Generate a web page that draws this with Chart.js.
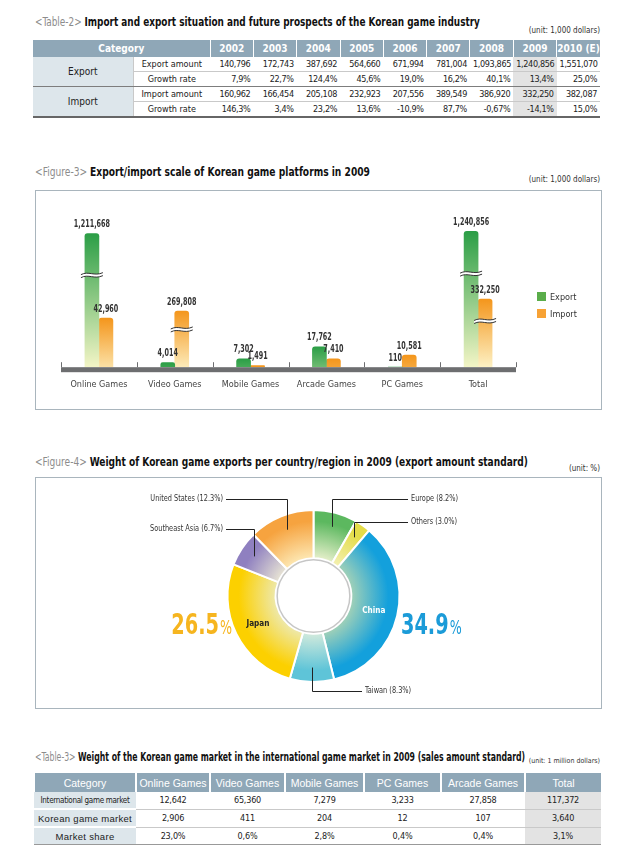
<!DOCTYPE html>
<html>
<head>
<meta charset="utf-8">
<script src="https://cdn.jsdelivr.net/npm/chart.js@4.4.1/dist/chart.umd.min.js"></script>
<style>
body { margin:0; width:634px; height:857px; background:#fff; position:relative; overflow:hidden;
  font-family:"DejaVu Sans Condensed","DejaVu Sans",sans-serif; color:#222; }
.title { position:absolute; left:35px; font-size:12.5px; white-space:nowrap; transform-origin:0 50%; }
.title .tag { color:#8c8c8c; }
.title b { color:#111; }
.unit { position:absolute; right:34px; font-size:8px; color:#333; white-space:nowrap; }
.box { position:absolute; left:35px; width:565px; border:1px solid #a9b5bd; }
canvas { position:absolute; }
table { position:absolute; left:33px; width:567px; border-collapse:collapse; table-layout:fixed; }
th { background:#8fa7b7; color:#fff; padding:0; border-left:1px solid #fff; }
th:first-child { border-left:none; }
#t2 th { height:17px; font-size:10px; font-weight:bold; }
#t2 td { height:14px; font-size:9px; padding:0 3px; text-align:right; border-bottom:1px solid #c9c9c9; white-space:nowrap; letter-spacing:-0.35px; }
#t2 td.cat { background:#dde6eb; text-align:center; font-size:10px; border-bottom:none; letter-spacing:0; }
#t2 td.sub { text-align:center; border-left:1px solid #c9c9c9; letter-spacing:0; }
#t2 td.hl { background:#e3e3e3; }
#t2 tr.grp td { border-bottom:1px solid #7d7d7d; }
#t2 tr.last td { border-bottom:2px solid #666; }
#t3 th { height:19px; font-family:"Liberation Sans",Arial,sans-serif; font-size:10.5px; font-weight:normal; border-left:2px solid #fff; }
#t3 td { height:14px; font-size:9px; text-align:center; border-bottom:1px solid #c9c9c9; white-space:nowrap; letter-spacing:-0.2px; }
#t3 td.cat { background:#dde6eb; border-bottom:2px solid #fff; }
#t3 td.hl { background:#e3e3e3; }
#t3 tr.last td { border-bottom:1px solid #999; }
.legend { position:absolute; left:537px; font-size:9px; color:#333; }
.legend i { display:inline-block; width:9px; height:9px; vertical-align:-1px; margin-right:4px; }
</style>
</head>
<body>

<div class="title" data-w="445" style="top:14px"><span class="tag">&lt;Table-2&gt;</span> <b>Import and export situation and future prospects of the Korean game industry</b></div>
<div class="unit" style="top:26px">(unit: 1,000 dollars)</div>
<table id="t2" style="top:40px"></table>

<div class="title" data-w="335" style="top:164px"><span class="tag">&lt;Figure-3&gt;</span> <b>Export/import scale of Korean game platforms in 2009</b></div>
<div class="unit" style="top:175px">(unit: 1,000 dollars)</div>
<div class="box" style="top:190px;height:218px"></div>
<canvas id="bars" width="567" height="220" style="left:35px;top:190px"></canvas>
<div class="legend" style="top:292px"><i style="background:#5aad4a"></i>Export</div>
<div class="legend" style="top:309px"><i style="background:#f7a235"></i>Import</div>

<div class="title" data-w="493" style="top:454px"><span class="tag">&lt;Figure-4&gt;</span> <b>Weight of Korean game exports per country/region in 2009 (export amount standard)</b></div>
<div class="unit" style="top:464px">(unit: %)</div>
<div class="box" style="top:477px;height:230px"></div>
<canvas id="donut" width="567" height="232" style="left:35px;top:477px"></canvas>

<div class="title" data-w="490" style="top:749px"><span class="tag">&lt;Table-3&gt;</span> <b>Weight of the Korean game market in the international game market in 2009 (sales amount standard)</b></div>
<div class="unit" style="top:757px;font-size:7px">(unit: 1 million dollars)</div>
<table id="t3" style="top:773px"></table>

<script>
// Table-2 data
const years = ['2002', '2003', '2004', '2005', '2006', '2007', '2008', '2009', '2010 (E)'];
const exportAmount = [140796, 172743, 387692, 564660, 671994, 781004, 1093865, 1240856, 1551070];
const exportGrowth = [7.9, 22.7, 124.4, 45.6, 19.0, 16.2, 40.1, 13.4, 25.0];
const importAmount = [160962, 166454, 205108, 232923, 207556, 389549, 386920, 332250, 382087];
const importGrowth = [146.3, 3.4, 23.2, 13.6, -10.9, 87.7, -0.67, -14.1, 15.0];

// Figure-3 data
const platforms = ['Online Games', 'Video Games', 'Mobile Games', 'Arcade Games', 'PC Games', 'Total'];
const exportValues = [1211668, 4014, 7302, 17762, 110, 1240856];
const importValues = [42960, 269808, 1491, 7410, 10581, 332250];

// Figure-4 data
const regions = ['Europe', 'Others', 'China', 'Taiwan', 'Japan', 'Southeast Asia', 'United States'];
const regionShares = [8.2, 3.0, 34.9, 8.3, 26.5, 6.7, 12.3];

// Table-3 data
const marketCategories = ['Online Games', 'Video Games', 'Mobile Games', 'PC Games', 'Arcade Games', 'Total'];
const intlMarket = [12642, 65360, 7279, 3233, 27858, 117372];
const koreanMarket = [2906, 411, 204, 12, 107, 3640];
const marketShare = [23.0, 0.6, 2.8, 0.4, 0.4, 3.1];

const FONT = '"DejaVu Sans Condensed","DejaVu Sans",sans-serif';
const num = v => v.toLocaleString('en-US');
const pct = v => {
    const d = Math.abs(v * 10 - Math.round(v * 10)) < 1e-6 ? 1 : 2;
    return v.toFixed(d).replace('.', ',') + '%';
};

// squeeze the titles to the width they take in the print
document.querySelectorAll('.title').forEach(el => {
    el.style.transform = `scaleX(${+el.dataset.w / el.offsetWidth})`;
});

// horizontally squeezed canvas text (the print uses a narrow face)
function narrowText(ctx, text, x, y, sx) {
    ctx.save();
    ctx.translate(x, y);
    ctx.scale(sx, 1);
    ctx.fillText(text, 0, 0);
    ctx.restore();
}

// ---- Table-2
(function() {
    const t = document.getElementById('t2');
    let html = '<colgroup><col style="width:100px"><col style="width:77px">' +
        years.map(() => '<col style="width:43.3px">').join('') + '</colgroup>';
    html += '<tr><th colspan="2">Category</th>' + years.map(y => `<th>${y}</th>`).join('') + '</tr>';
    const row = (cls, cat, sub, vals, fmt) => {
        let r = `<tr class="${cls}">`;
        if (cat) r += `<td class="cat" rowspan="2">${cat}</td>`;
        r += `<td class="sub">${sub}</td>`;
        r += vals.map((v, i) => `<td${i === 7 ? ' class="hl"' : ''}>${fmt(v)}</td>`).join('');
        return r + '</tr>';
    };
    html += row('', 'Export', 'Export amount', exportAmount, num);
    html += row('grp', null, 'Growth rate', exportGrowth, pct);
    html += row('', 'Import', 'Import amount', importAmount, num);
    html += row('last', null, 'Growth rate', importGrowth, pct);
    t.innerHTML = html;
    t.rows[1].cells[0].style.borderBottom = '1px solid #7d7d7d';
    t.rows[3].cells[0].style.borderBottom = '2px solid #666';
})();

// ---- Table-3
(function() {
    const t = document.getElementById('t3');
    const widths = [102, 74, 75, 79, 77, 84, 76];
    let html = '<colgroup>' + widths.map(w => `<col style="width:${w}px">`).join('') + '</colgroup>';
    html += '<tr><th>Category</th>' + marketCategories.map(c => `<th>${c}</th>`).join('') + '</tr>';
    const row = (cls, label, style, vals, fmt) =>
        `<tr class="${cls}"><td class="cat" style="${style}">${label}</td>` +
        vals.map((v, i) => `<td${i === 5 ? ' class="hl"' : ''}>${fmt(v)}</td>`).join('') + '</tr>';
    html += row('', 'International game market', 'font-size:8px;letter-spacing:-0.3px', intlMarket, num);
    html += row('', 'Korean game market', 'font-family:Liberation Sans,Arial;font-size:9.5px;letter-spacing:0.3px', koreanMarket, num);
    html += row('last', 'Market share', 'font-family:Liberation Sans,Arial;font-size:9.5px;letter-spacing:0.3px', marketShare, pct);
    t.innerHTML = html;
})();

Chart.defaults.font.family = FONT;

// y scale with axis breaks: piecewise linear value -> fraction of height
class BrokenScale extends Chart.LinearScale {
    getPixelForValue(value) {
        const bp = this.options.breaks;
        let f = 0;
        for (let i = 1; i < bp.length; i++) {
            if (value <= bp[i][0] || i === bp.length - 1) {
                const [v0, f0] = bp[i - 1], [v1, f1] = bp[i];
                f = f0 + (value - v0) / (v1 - v0) * (f1 - f0);
                break;
            }
        }
        return this.getPixelForDecimal(f);
    }
    getValueForPixel(pixel) {
        const bp = this.options.breaks;
        const f = this.getDecimalForPixel(pixel);
        for (let i = 1; i < bp.length; i++) {
            if (f <= bp[i][1] || i === bp.length - 1) {
                const [v0, f0] = bp[i - 1], [v1, f1] = bp[i];
                return v0 + (f - f0) / (f1 - f0) * (v1 - v0);
            }
        }
    }
}
BrokenScale.id = 'broken';
BrokenScale.defaults = Chart.LinearScale.defaults;
Chart.register(BrokenScale);

function barFill(dark, pale) {
    return function(c) {
        const ys = c.chart.scales.y;
        if (!ys || c.type !== 'data') return dark;
        const top = ys.getPixelForValue(c.raw);
        const bottom = ys.getPixelForValue(0);
        if (!isFinite(top) || !isFinite(bottom)) return dark;
        const g = c.chart.ctx.createLinearGradient(0, top, 0, Math.max(bottom, top + 60));
        g.addColorStop(0, dark);
        g.addColorStop(1, pale);
        return g;
    };
}

const axisDecor = {
    id: 'axisDecor',
    afterDatasetsDraw(chart) {
        const {ctx, chartArea: a} = chart;
        const n = chart.data.labels.length;
        ctx.save();
        ctx.fillStyle = '#6d6e70';
        ctx.fillRect(a.left, a.bottom, a.right - a.left, 5);
        ctx.strokeStyle = '#6d6e70';
        ctx.lineWidth = 1;
        for (let i = 0; i <= n; i++) {
            const x = Math.round(a.left + i * (a.right - a.left) / n) + 0.5;
            ctx.beginPath();
            ctx.moveTo(x, a.bottom - 5);
            ctx.lineTo(x, a.bottom);
            ctx.stroke();
        }
        ctx.restore();
    }
};

const barBreaks = {
    id: 'barBreaks',
    afterDatasetsDraw(chart) {
        const ctx = chart.ctx;
        const limit = chart.options.scales.y.breaks[1][0];
        ctx.save();
        chart.data.datasets.forEach((ds, di) => {
            chart.getDatasetMeta(di).data.forEach((bar, i) => {
                if (ds.data[i] <= limit) return;
                const y = bar.y + (bar.base - bar.y) * 0.3;
                const x0 = bar.x - bar.width / 2 - 4, x1 = bar.x + bar.width / 2 + 4, w = x1 - x0;
                const wave = (yy) => {
                    ctx.moveTo(x0, yy + 1);
                    ctx.bezierCurveTo(x0 + w * 0.35, yy - 3, x0 + w * 0.6, yy + 3, x1, yy - 1);
                };
                ctx.beginPath();
                wave(y);
                ctx.lineTo(x1, y + 2);
                ctx.bezierCurveTo(x0 + w * 0.6, y + 6, x0 + w * 0.35, y, x0, y + 4);
                ctx.closePath();
                ctx.fillStyle = '#fff';
                ctx.fill();
                ctx.strokeStyle = '#333';
                ctx.lineWidth = 1;
                ctx.beginPath();
                wave(y);
                ctx.stroke();
                ctx.beginPath();
                wave(y + 3);
                ctx.stroke();
            });
        });
        ctx.restore();
    }
};

const barLabels = {
    id: 'barLabels',
    afterDatasetsDraw(chart) {
        const ctx = chart.ctx;
        ctx.save();
        ctx.font = 'bold 10.5px ' + FONT;
        ctx.fillStyle = '#333';
        ctx.textAlign = 'center';
        ctx.textBaseline = 'bottom';
        chart.data.datasets.forEach((ds, di) => {
            chart.getDatasetMeta(di).data.forEach((bar, i) => {
                narrowText(ctx, num(ds.data[i]), bar.x, bar.y - 4, 0.68);
            });
        });
        ctx.restore();
    }
};

new Chart(document.getElementById('bars'), {
    type: 'bar',
    data: {
        labels: platforms,
        datasets: [
            { label: 'Export', data: exportValues, backgroundColor: barFill('#2b9e46', '#f3f5c6') },
            { label: 'Import', data: importValues, backgroundColor: barFill('#f4961c', '#fdf1c4') }
        ]
    },
    options: {
        responsive: false,
        animation: false,
        layout: { padding: { left: 26, right: 86, top: 37, bottom: 8 } },
        datasets: {
            bar: { barThickness: 14, categoryPercentage: 0.42, barPercentage: 1, borderRadius: 3, borderSkipped: 'start' }
        },
        scales: {
            x: {
                grid: { display: false, drawTicks: false },
                border: { display: false },
                ticks: { color: '#444', font: { size: 9 }, padding: 12, maxRotation: 0 }
            },
            y: {
                type: 'broken', display: false, min: 0, max: 1300000,
                breaks: [[0, 0], [45000, 0.367], [270000, 0.40], [335000, 0.49], [1300000, 1]]
            }
        },
        plugins: { legend: { display: false }, tooltip: { enabled: false } }
    },
    plugins: [axisDecor, barBreaks, barLabels]
});

// ---- Figure-4 doughnut
const ringColors = [
    ['#e3eec8', '#5cb85f'],
    ['#f3f0b0', '#e4dc48'],
    ['#9fd0b8', '#13a0dc'],
    ['#cfe9dc', '#5ec4d8'],
    ['#eee8a8', '#fcd000'],
    ['#e6e2d4', '#8f80c0'],
    ['#fde6b0', '#f6a33f']
];
// leader-line label placement (canvas coords)
const leaders = {
    'Europe': { side: 'right', x: 376, y: 22 },
    'Others': { side: 'right', x: 376, y: 45 },
    'Taiwan': { side: 'right', x: 330, y: 214 },
    'Southeast Asia': { side: 'left', x: 188, y: 52 },
    'United States': { side: 'left', x: 188, y: 22 }
};

function ringFill(c) {
    const pair = ringColors[c.dataIndex];
    const a = c.chart.chartArea;
    if (!a || !isFinite(a.width)) return pair[1];
    const cx = (a.left + a.right) / 2, cy = (a.top + a.bottom) / 2;
    const outer = Math.min(a.width, a.height) / 2;
    const g = c.chart.ctx.createRadialGradient(cx, cy, outer * 0.44, cx, cy, outer);
    g.addColorStop(0, pair[0]);
    g.addColorStop(0.75, pair[1]);
    g.addColorStop(1, pair[1]);
    return g;
}

const ringDecor = {
    id: 'ringDecor',
    afterDatasetsDraw(chart) {
        const ctx = chart.ctx;
        const arcs = chart.getDatasetMeta(0).data;
        const {x: cx, y: cy, innerRadius: inner, outerRadius: outer} = arcs[0];
        ctx.save();
        ctx.beginPath();
        ctx.arc(cx, cy, inner - 1.5, 0, Math.PI * 2);
        ctx.fillStyle = '#fff';
        ctx.fill();
        ctx.strokeStyle = '#c6c6c6';
        ctx.lineWidth = 1.5;
        ctx.stroke();

        ctx.lineWidth = 1;
        ctx.strokeStyle = '#222';
        ctx.textBaseline = 'middle';
        arcs.forEach((arc, i) => {
            const name = regions[i];
            const mid = (arc.startAngle + arc.endAngle) / 2;
            const L = leaders[name];
            if (L) {
                const r = inner + (outer - inner) * 0.7;
                const ax = Math.round(cx + Math.cos(mid) * r) + 0.5;
                const ay = cy + Math.sin(mid) * r;
                const ly = Math.round(L.y) + 0.5;
                ctx.beginPath();
                ctx.moveTo(ax, ay);
                ctx.lineTo(ax, ly);
                ctx.lineTo(L.side === 'left' ? L.x + 3 : L.x - 3, ly);
                ctx.stroke();
                ctx.font = '8.5px ' + FONT;
                ctx.fillStyle = '#333';
                ctx.textAlign = L.side === 'left' ? 'right' : 'left';
                narrowText(ctx, `${name} (${regionShares[i].toFixed(1)}%)`, L.x, L.y, 0.86);
            }
        });

        // labels inside the two big slices and their large percentages
        const big = [
            { name: 'China', text: '#fff', color: '#1b9bd8', side: 'right' },
            { name: 'Japan', text: '#222', color: '#f6b51f', side: 'left' }
        ];
        const sx = 0.74;
        big.forEach(b => {
            const i = regions.indexOf(b.name);
            const arc = arcs[i];
            const mid = (arc.startAngle + arc.endAngle) / 2;
            const r = (inner + outer) / 2;
            ctx.font = 'bold 9px ' + FONT;
            ctx.fillStyle = b.text;
            ctx.textAlign = 'center';
            ctx.textBaseline = 'middle';
            narrowText(ctx, b.name, cx + Math.cos(mid) * r, cy + Math.sin(mid) * r, 0.9);

            const numTxt = regionShares[i].toFixed(1);
            ctx.textBaseline = 'alphabetic';
            ctx.textAlign = 'left';
            ctx.font = 'bold 29px ' + FONT;
            const wNum = ctx.measureText(numTxt).width * sx;
            ctx.font = '19px ' + FONT;
            const wPct = ctx.measureText('%').width * sx;
            const x0 = b.side === 'right' ? cx + outer + 1.5 : cx - outer + 3.5 - wNum - wPct;
            const by = cy + 38;
            ctx.fillStyle = b.color;
            ctx.font = 'bold 29px ' + FONT;
            narrowText(ctx, numTxt, x0, by, sx);
            ctx.font = '19px ' + FONT;
            narrowText(ctx, '%', x0 + wNum + 1, by, sx);
        });
        ctx.restore();
    }
};

new Chart(document.getElementById('donut'), {
    type: 'doughnut',
    data: {
        labels: regions,
        datasets: [{ data: regionShares, backgroundColor: ringFill, borderColor: '#fff', borderWidth: 2, hoverOffset: 0 }]
    },
    options: {
        responsive: false,
        animation: false,
        cutout: '44%',
        layout: { padding: { left: 191.5, right: 201.5, top: 32, bottom: 26 } },
        plugins: { legend: { display: false }, tooltip: { enabled: false } }
    },
    plugins: [ringDecor]
});
</script>
</body>
</html>
